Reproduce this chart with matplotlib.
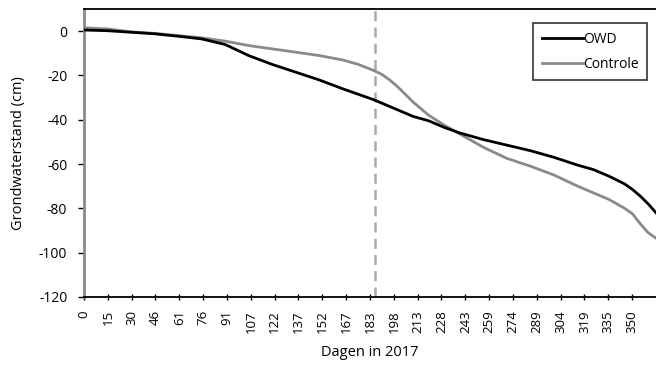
import matplotlib
matplotlib.use("Agg")
from matplotlib import pyplot as plt

plt.rcParams["font.family"] = ["Open Sans", "DejaVu Sans"]
plt.rcParams["axes.unicode_minus"] = False

# days of 2017 and groundwater levels (cm) for both plots
days = [0, 15, 30, 45, 60, 75, 90, 105, 120, 135, 150, 165, 175, 185, 190, 195,
        200, 205, 210, 220, 230, 240, 255, 270, 285, 300, 315, 325, 335, 345,
        350, 355, 360, 365]
owd = [0.5, 0.2, -0.5, -1.2, -2.3, -3.5, -6, -11, -15, -18.5, -22, -26, -28.5,
       -31, -32.5, -34, -35.5, -37, -38.5, -40.5, -43.5, -46, -49, -51.5, -54,
       -57, -60.5, -62.5, -65.5, -69, -71.5, -74.5, -78, -82]
controle = [1.5, 1, -0.3, -1, -2, -3, -4.5, -6.5, -8, -9.5, -11, -13, -15,
            -17.8, -19.5, -22, -25, -28.5, -32, -38, -42.5, -46.5, -52.5, -57.5,
            -61, -65, -70, -73, -76, -80, -82.5, -87, -91, -93.5]

tick_days = [0, 15, 30, 46, 61, 76, 91, 107, 122, 137, 152, 167, 183, 198, 213,
             228, 243, 259, 274, 289, 304, 319, 335, 350]
y_ticks = [0, -20, -40, -60, -80, -100, -120]
marker_day = 186


def create_groundwater_chart():
    fig = plt.figure(figsize=(6.56, 3.67), dpi=100)
    ax = fig.add_axes([0.128, 0.191, 0.872, 0.7845])

    ax.plot(days, owd, color="black", lw=2.0, label="OWD", zorder=3)
    ax.plot(days, controle, color="#8a8a8a", lw=2.0, label="Controle", zorder=2)
    ax.axvline(marker_day, color="#ababab", lw=1.8, dashes=(4, 2.5), zorder=1)

    ax.set_xlim(0, 365)
    ax.set_ylim(-120, 10)

    ax.set_xticks([i * 365 / 24 for i in range(len(tick_days))])
    ax.set_xticklabels([str(d) for d in tick_days], rotation=90, fontsize=9.5)
    ax.set_yticks(y_ticks)
    ax.set_yticklabels([str(v) for v in y_ticks], fontsize=10)
    ax.tick_params(axis="x", direction="inout", length=5, width=1, pad=7)
    ax.tick_params(axis="y", direction="out", length=4, width=1, pad=8)

    ax.spines["left"].set_color("#8a8a8a")
    ax.spines["left"].set_linewidth(2)
    ax.spines["bottom"].set_linewidth(1.3)
    ax.spines["top"].set_linewidth(1.3)
    ax.spines["right"].set_visible(False)

    ax.set_ylabel("Grondwaterstand (cm)", fontsize=10.5, labelpad=9)
    ax.set_xlabel("Dagen in 2017", fontsize=10.5, labelpad=9)

    leg = ax.legend(loc="upper right", bbox_to_anchor=(0.985, 0.95),
                    fontsize=10, frameon=True, fancybox=False,
                    handlelength=3.0, handletextpad=0.0, borderpad=0.6,
                    labelspacing=0.75, borderaxespad=0)
    leg.get_frame().set_edgecolor("black")
    leg.get_frame().set_linewidth(1.2)

    return fig


if __name__ == "__main__":
    fig = create_groundwater_chart()
    fig.savefig("out.png", dpi=100)
